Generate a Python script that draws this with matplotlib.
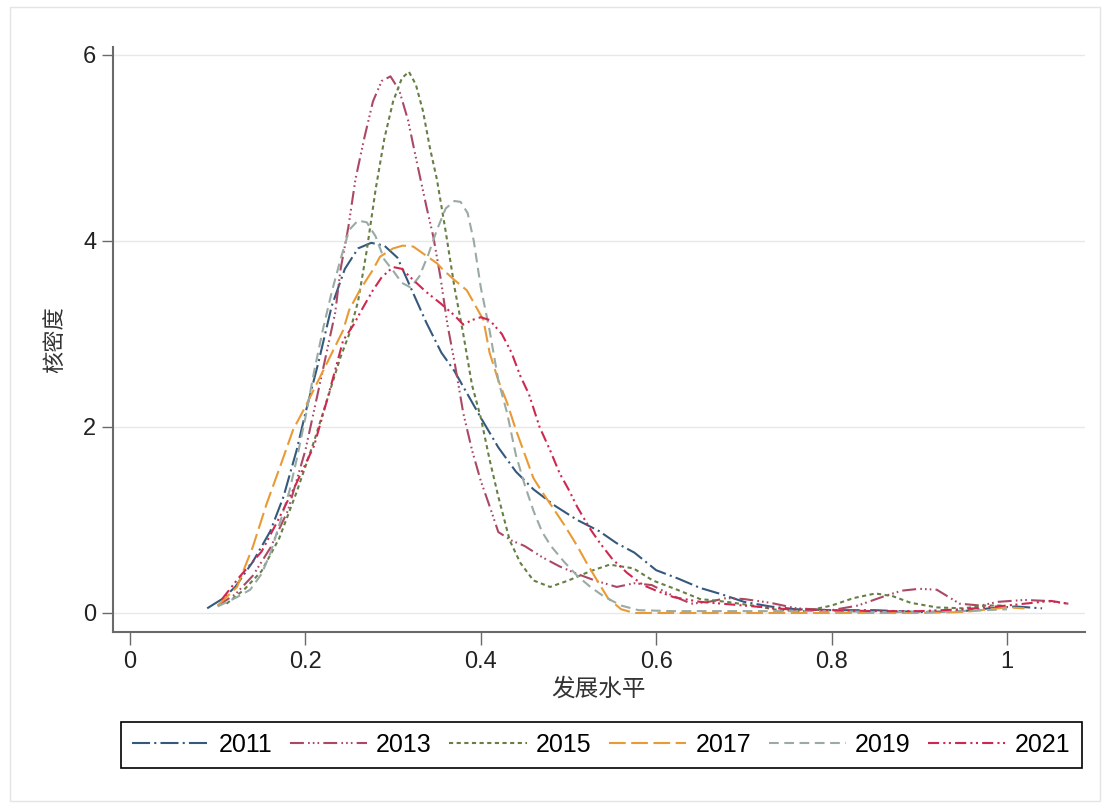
import numpy as np
import matplotlib
matplotlib.use("Agg")
import matplotlib.pyplot as plt
from matplotlib.patches import Rectangle

plt.rcParams['font.family'] = ['Liberation Sans', 'Noto Sans CJK SC', 'DejaVu Sans']
plt.rcParams['lines.scale_dashes'] = False

# kernel density curves
x2011 = [0.088, 0.105, 0.12, 0.14, 0.16, 0.175, 0.19, 0.20, 0.215, 0.23, 0.245, 0.26, 0.275, 0.29, 0.305,
         0.32, 0.338, 0.355, 0.37, 0.385, 0.40, 0.42, 0.44, 0.46, 0.485, 0.51, 0.535, 0.555, 0.575, 0.60,
         0.625, 0.65, 0.675, 0.70, 0.73, 0.76, 0.80, 0.85, 0.90, 0.95, 0.98, 1.01, 1.04]
y2011 = [0.05, 0.15, 0.28, 0.55, 0.88, 1.25, 1.75, 2.15, 2.7, 3.3, 3.7, 3.92, 3.98, 3.95, 3.82,
         3.5, 3.12, 2.8, 2.6, 2.35, 2.1, 1.78, 1.52, 1.33, 1.15, 1.0, 0.88, 0.75, 0.65, 0.46,
         0.37, 0.27, 0.2, 0.12, 0.07, 0.04, 0.03, 0.03, 0.01, 0.02, 0.05, 0.07, 0.05]

x2013 = [0.10, 0.12, 0.14, 0.16, 0.18, 0.20, 0.215, 0.234, 0.24, 0.249, 0.257, 0.267, 0.277, 0.287, 0.297,
         0.307, 0.317, 0.327, 0.338, 0.346, 0.354, 0.362, 0.37, 0.38, 0.39, 0.40, 0.41, 0.42, 0.435, 0.45,
         0.47, 0.49, 0.51, 0.53, 0.555, 0.575, 0.595, 0.62, 0.64, 0.66, 0.68, 0.70, 0.73, 0.76, 0.80,
         0.83, 0.86, 0.88, 0.90, 0.92, 0.946, 0.97, 0.99, 1.02, 1.045, 1.07]
y2013 = [0.08, 0.2, 0.4, 0.7, 1.1, 1.75, 2.4, 3.23, 3.69, 4.15, 4.66, 5.1, 5.5, 5.72, 5.77,
         5.62, 5.3, 4.85, 4.37, 4.04, 3.61, 3.1, 2.7, 2.15, 1.75, 1.42, 1.15, 0.87, 0.78, 0.72,
         0.6, 0.5, 0.42, 0.35, 0.28, 0.32, 0.3, 0.18, 0.1, 0.12, 0.16, 0.15, 0.11, 0.05, 0.03,
         0.08, 0.18, 0.24, 0.26, 0.25, 0.1, 0.08, 0.12, 0.14, 0.13, 0.1]

x2015 = [0.11, 0.13, 0.15, 0.17, 0.19, 0.21, 0.225, 0.24, 0.25, 0.26, 0.27, 0.28, 0.29, 0.30, 0.31,
         0.318, 0.326, 0.334, 0.342, 0.35, 0.36, 0.37, 0.38, 0.39, 0.40, 0.41, 0.42, 0.433, 0.445, 0.46,
         0.479, 0.50, 0.525, 0.547, 0.574, 0.596, 0.624, 0.65, 0.68, 0.71, 0.74, 0.77, 0.80, 0.825, 0.85,
         0.87, 0.89, 0.92, 0.95, 0.975, 0.995]
y2015 = [0.1, 0.25, 0.45, 0.8, 1.3, 1.85, 2.3, 2.75, 3.0, 3.35, 3.9, 4.55, 5.1, 5.5, 5.75,
         5.82, 5.68, 5.4, 5.0, 4.66, 4.1, 3.5, 3.0, 2.45, 2.1, 1.65, 1.25, 0.78, 0.54, 0.35,
         0.28, 0.35, 0.45, 0.52, 0.48, 0.35, 0.25, 0.15, 0.12, 0.08, 0.03, 0.02, 0.08, 0.16, 0.21,
         0.18, 0.11, 0.06, 0.05, 0.08, 0.08]

x2017 = [0.10, 0.122, 0.14, 0.156, 0.171, 0.186, 0.20, 0.22, 0.243, 0.25, 0.262, 0.277, 0.285, 0.30, 0.311,
         0.323, 0.338, 0.35, 0.357, 0.37, 0.384, 0.39, 0.403, 0.41, 0.42, 0.43, 0.44, 0.46, 0.47, 0.483,
         0.495, 0.51, 0.52, 0.532, 0.545, 0.56, 0.575, 0.60, 0.65, 0.70, 0.75, 0.80, 0.85, 0.90, 0.95,
         0.98, 1.0, 1.02]
y2017 = [0.08, 0.28, 0.71, 1.18, 1.57, 1.97, 2.22, 2.6, 3.04, 3.26, 3.47, 3.69, 3.83, 3.92, 3.95,
         3.94, 3.84, 3.76, 3.69, 3.58, 3.47, 3.37, 3.15, 2.8, 2.5, 2.26, 1.97, 1.45, 1.3, 1.12,
         0.95, 0.72, 0.55, 0.36, 0.16, 0.04, 0.0, 0.0, 0.0, 0.0, 0.0, 0.0, 0.0, 0.0, 0.01,
         0.04, 0.06, 0.05]

x2019 = [0.10, 0.122, 0.137, 0.15, 0.16, 0.171, 0.182, 0.19, 0.20, 0.21, 0.22, 0.23, 0.24, 0.25, 0.26,
         0.27, 0.28, 0.29, 0.30, 0.31, 0.32, 0.33, 0.34, 0.35, 0.36, 0.37, 0.377, 0.385, 0.392, 0.40,
         0.41, 0.42, 0.43, 0.44, 0.45, 0.46, 0.47, 0.48, 0.495, 0.51, 0.525, 0.54, 0.56, 0.58, 0.62,
         0.66, 0.70, 0.75, 0.80, 0.85, 0.90, 0.95, 1.0]
y2019 = [0.07, 0.17, 0.25, 0.42, 0.64, 0.97, 1.32, 1.65, 2.1, 2.6, 3.05, 3.45, 3.8, 4.12, 4.22,
         4.2, 4.05, 3.8, 3.68, 3.55, 3.5, 3.62, 3.85, 4.12, 4.35, 4.43, 4.42, 4.3, 4.0, 3.5,
         3.04, 2.5, 2.15, 1.7, 1.38, 1.1, 0.87, 0.72, 0.55, 0.4, 0.28, 0.18, 0.08, 0.03, 0.02,
         0.02, 0.02, 0.02, 0.02, 0.01, 0.01, 0.02, 0.04]

x2021 = [0.105, 0.125, 0.15, 0.17, 0.19, 0.21, 0.225, 0.243, 0.255, 0.266, 0.277, 0.287, 0.30, 0.31, 0.323,
         0.338, 0.354, 0.37, 0.38, 0.39, 0.40, 0.41, 0.424, 0.435, 0.445, 0.455, 0.467, 0.479, 0.49, 0.50,
         0.51, 0.525, 0.536, 0.55, 0.567, 0.585, 0.60, 0.62, 0.65, 0.70, 0.75, 0.80, 0.85, 0.90, 0.95,
         1.0, 1.03, 1.05, 1.07]
y2021 = [0.15, 0.39, 0.66, 1.02, 1.4, 1.8, 2.3, 2.93, 3.1, 3.29, 3.47, 3.61, 3.72, 3.7, 3.58,
         3.45, 3.33, 3.2, 3.1, 3.15, 3.18, 3.15, 3.0, 2.8, 2.55, 2.35, 2.0, 1.75, 1.5, 1.33,
         1.14, 0.9, 0.75, 0.58, 0.43, 0.3, 0.24, 0.17, 0.12, 0.08, 0.04, 0.03, 0.02, 0.02, 0.04,
         0.08, 0.11, 0.13, 0.1]

years = ['2011', '2013', '2015', '2017', '2019', '2021']
xs = [x2011, x2013, x2015, x2017, x2019, x2021]
ys = [y2011, y2013, y2015, y2017, y2019, y2021]
colors = ['#35597c', '#ab4864', '#657f45', '#e99a35', '#9aaaa5', '#cf2850']
styles = [(0, (13, 3, 1.5, 3)),
          (0, (10, 3, 1.2, 2.2, 1.2, 2.2, 1.2, 3)),
          (0, (3, 2.5)),
          (0, (12, 4)),
          (0, (7, 4)),
          (0, (8, 3, 1.5, 2.5, 1.5, 3))]

xticks = [0, 0.2, 0.4, 0.6, 0.8, 1.0]
xticklabels = ['0', '0.2', '0.4', '0.6', '0.8', '1']
yticks = [0, 2, 4, 6]

fig = plt.figure(figsize=(11.1, 8.07), dpi=100)
fig.patches.append(Rectangle((0.009, 0.008), 0.982, 0.983, transform=fig.transFigure,
                             fill=False, edgecolor='#e4e4e4', lw=1))
ax = fig.add_axes([0.1018, 0.2169, 0.8757, 0.7249])

for x, y, c, ls, yr in zip(xs, ys, colors, styles, years):
    ax.plot(x, y, color=c, ls=ls, lw=1.5, label=yr)

ax.set_xlim(-0.0194, 1.089)
ax.set_ylim(-0.204, 6.086)
ax.set_xticks(xticks)
ax.set_xticklabels(xticklabels)
ax.set_yticks(yticks)
ax.grid(axis='y', color='#e8e8e8', lw=1)
ax.set_axisbelow(True)
for s in ['top', 'right']:
    ax.spines[s].set_visible(False)
for s in ['left', 'bottom']:
    ax.spines[s].set_color('#6a6a6a')
    ax.spines[s].set_linewidth(1.5)
ax.tick_params(axis='y', length=8, width=1, color='#6a6a6a', labelsize=17, pad=4, labelcolor='#222222')
ax.tick_params(axis='x', length=9, width=1, color='#6a6a6a', labelsize=17, pad=5, labelcolor='#222222')

ax.set_ylabel('核密度', fontsize=16, color='#333333', labelpad=12)
ax.set_xlabel('发展水平', fontsize=17, color='#333333', labelpad=3)

leg = ax.legend(loc='center', bbox_to_anchor=(601 / 1110, 1 - 745 / 807), bbox_transform=fig.transFigure,
                ncol=6, fontsize=18, handlelength=3.1, handletextpad=0.36, columnspacing=0.7,
                borderpad=0.45, fancybox=False, framealpha=1, edgecolor='black')
leg.get_frame().set_linewidth(1.2)

fig.savefig('out.png', dpi=100)
